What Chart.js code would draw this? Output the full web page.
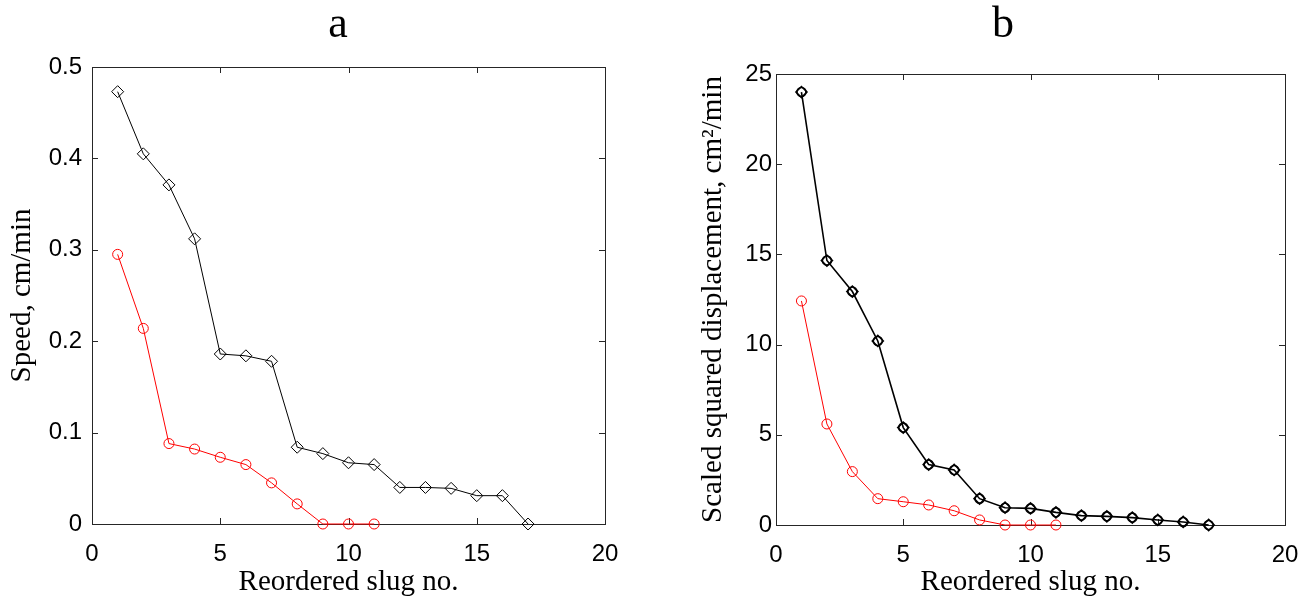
<!DOCTYPE html>
<html>
<head>
<meta charset="utf-8">
<script src="https://cdn.jsdelivr.net/npm/chart.js@4"></script>
<style>
  body { margin: 0; background: #fff; }
  .wrap { position: absolute; top: 0; height: 601px; }
  #wa { left: 0; width: 676px; }
  #wb { left: 676px; width: 640px; }
</style>
</head>
<body>
<div class="wrap" id="wa"><canvas id="chartA" width="676" height="601"></canvas></div>
<div class="wrap" id="wb"><canvas id="chartB" width="640" height="601"></canvas></div>
<script>
// reordered slug numbers
const slugAll = [1, 2, 3, 4, 5, 6, 7, 8, 9, 10, 11, 12, 13, 14, 15, 16, 17];
const slugRed = [1, 2, 3, 4, 5, 6, 7, 8, 9, 10, 11];

// panel a: speed, cm/min
const speedBlack = [0.473, 0.405, 0.371, 0.312, 0.186, 0.184, 0.178, 0.084, 0.077, 0.067, 0.065, 0.040, 0.040, 0.039, 0.031, 0.031, 0];
const speedRed = [0.295, 0.214, 0.088, 0.082, 0.073, 0.065, 0.045, 0.022, 0, 0, 0];

// panel b: scaled squared displacement, cm^2/min
const dispBlack = [24.0, 14.66, 12.94, 10.2, 5.4, 3.35, 3.05, 1.46, 0.96, 0.92, 0.70, 0.52, 0.48, 0.41, 0.28, 0.17, 0];
const dispRed = [12.42, 5.6, 2.96, 1.46, 1.29, 1.11, 0.79, 0.28, 0, 0, 0];

const xTicks = [0, 5, 10, 15, 20];

const serif = "'Liberation Serif', 'Times New Roman', serif";
const sans = "'Liberation Sans', Arial, sans-serif";
const frameColor = '#262626';

const toPoints = (xs, ys) => xs.map((x, i) => ({ x: x, y: ys[i] }));

// box around the axes with inward tick marks, MATLAB style
const boxTicks = {
  id: 'boxTicks',
  beforeDatasetsDraw(chart) {
    const { ctx, chartArea: a, scales: { x, y } } = chart;
    ctx.save();
    ctx.strokeStyle = frameColor;
    ctx.lineWidth = 1;
    ctx.strokeRect(Math.round(a.left) + 0.5, Math.round(a.top) + 0.5, Math.round(a.width), Math.round(a.height));
    ctx.beginPath();
    x.ticks.forEach(t => {
      const px = Math.round(x.getPixelForValue(t.value)) + 0.5;
      ctx.moveTo(px, a.bottom); ctx.lineTo(px, a.bottom - 6);
      ctx.moveTo(px, a.top); ctx.lineTo(px, a.top + 6);
    });
    y.ticks.forEach(t => {
      const py = Math.round(y.getPixelForValue(t.value)) + 0.5;
      ctx.moveTo(a.left, py); ctx.lineTo(a.left + 6, py);
      ctx.moveTo(a.right, py); ctx.lineTo(a.right - 6, py);
    });
    ctx.stroke();
    ctx.restore();
  }
};

// panel letter above each axes
const panelTitle = {
  id: 'panelTitle',
  afterDraw(chart, args, opts) {
    const ctx = chart.ctx;
    ctx.save();
    ctx.fillStyle = '#000';
    ctx.font = '44px ' + serif;
    ctx.textAlign = 'center';
    ctx.textBaseline = 'alphabetic';
    ctx.fillText(opts.text, opts.x, opts.baseline);
    ctx.restore();
  }
};

function makeOptions(opt) {
  return {
    responsive: false,
    animation: false,
    layout: { padding: { left: 0, right: opt.padRight, top: opt.padTop, bottom: 0 } },
    plugins: {
      legend: { display: false },
      tooltip: { enabled: false },
      title: { display: false },
      panelTitle: { text: opt.title, x: opt.titleX, baseline: 37 }
    },
    scales: {
      x: {
        type: 'linear',
        min: 0,
        max: 20,
        afterBuildTicks: s => { s.ticks = xTicks.map(v => ({ value: v })); },
        afterFit: s => { s.height = opt.xHeight; },
        grid: { display: false, drawTicks: false },
        border: { display: false },
        ticks: { color: '#000', padding: 16, font: { family: sans, size: 24 }, maxRotation: 0 },
        title: {
          display: true,
          text: 'Reordered slug no.',
          color: '#000',
          font: { family: serif, size: 29 },
          padding: { top: 0, bottom: 1 }
        }
      },
      y: {
        min: 0,
        max: opt.yMax,
        afterFit: s => { s.width = opt.yWidth; },
        grid: { display: false, drawTicks: false },
        border: { display: false },
        ticks: { color: '#000', stepSize: opt.yStep, padding: opt.yTickPad, font: { family: sans, size: 24 } },
        title: {
          display: true,
          text: opt.yTitle,
          color: '#000',
          font: { family: serif, size: 29 },
          padding: { top: opt.yTitlePad, bottom: 0 }
        }
      }
    }
  };
}

new Chart(document.getElementById('chartA'), {
  type: 'line',
  data: {
    datasets: [
      {
        data: toPoints(slugAll, speedBlack),
        borderColor: '#000',
        borderWidth: 1,
        pointStyle: 'rectRot',
        pointRadius: 6,
        pointBorderWidth: 1,
        pointBorderColor: '#000',
        pointBackgroundColor: 'rgba(0,0,0,0)',
        clip: false
      },
      {
        data: toPoints(slugRed, speedRed),
        borderColor: '#ff0000',
        borderWidth: 1,
        pointStyle: 'circle',
        pointRadius: 5,
        pointBorderWidth: 1,
        pointBorderColor: '#ff0000',
        pointBackgroundColor: 'rgba(0,0,0,0)',
        clip: false
      }
    ]
  },
  options: makeOptions({
    title: 'a', titleX: 338, padTop: 67, padRight: 71, xHeight: 77,
    yMax: 0.5, yStep: 0.1, yWidth: 92, yTickPad: 10,
    yTitle: 'Speed, cm/min', yTitlePad: 5
  }),
  plugins: [boxTicks, panelTitle]
});

new Chart(document.getElementById('chartB'), {
  type: 'line',
  data: {
    datasets: [
      {
        data: toPoints(slugAll, dispBlack),
        borderColor: '#000',
        borderWidth: 1.6,
        pointStyle: 'circle',
        pointRadius: 4.5,
        pointBorderWidth: 1.6,
        pointBorderColor: '#000',
        pointBackgroundColor: 'rgba(0,0,0,0)',
        clip: false
      },
      {
        data: toPoints(slugAll, dispBlack),
        showLine: false,
        pointStyle: 'rectRot',
        pointRadius: 5.5,
        pointBorderWidth: 1.6,
        pointBorderColor: '#000',
        pointBackgroundColor: 'rgba(0,0,0,0)',
        clip: false
      },
      {
        data: toPoints(slugRed, dispRed),
        borderColor: '#ff0000',
        borderWidth: 1,
        pointStyle: 'circle',
        pointRadius: 5,
        pointBorderWidth: 1,
        pointBorderColor: '#ff0000',
        pointBackgroundColor: 'rgba(0,0,0,0)',
        clip: false
      }
    ]
  },
  options: makeOptions({
    title: 'b', titleX: 327, padTop: 74, padRight: 31, xHeight: 76,
    yMax: 25, yStep: 5, yWidth: 100, yTickPad: 4,
    yTitle: 'Scaled squared displacement, cm\u00b2/min', yTitlePad: 20
  }),
  plugins: [boxTicks, panelTitle]
});
</script>
</body>
</html>
